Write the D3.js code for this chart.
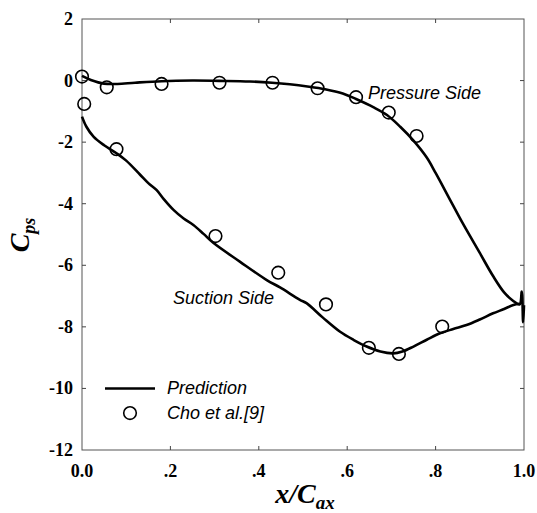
<!DOCTYPE html>
<html>
<head>
<meta charset="utf-8">
<script src="https://cdn.jsdelivr.net/npm/d3@7"></script>
<style>
  body { margin: 0; background: #fff; }
</style>
</head>
<body>
<svg id="chart"></svg>
<script>
// prediction curves [x/Cax, Cps]
var pressurePred = [[0, 0.15], [0.02, 0.02], [0.05, -0.1], [0.08, -0.11], [0.12, -0.07], [0.18, -0.02],
  [0.25, 0.0], [0.31, -0.01], [0.38, -0.03], [0.43, -0.07], [0.47, -0.12], [0.51, -0.19], [0.55, -0.28],
  [0.59, -0.42], [0.62, -0.6], [0.66, -0.87], [0.69, -1.12], [0.72, -1.5], [0.75, -1.95], [0.78, -2.5],
  [0.80, -3.0], [0.83, -3.8], [0.86, -4.6], [0.90, -5.6], [0.93, -6.35], [0.955, -6.88], [0.975, -7.15],
  [0.99, -7.27], [0.995, -6.85], [0.998, -7.85], [1.0, -7.3]];

var suctionPred = [[0, -1.17], [0.01, -1.5], [0.026, -1.82], [0.05, -2.1], [0.078, -2.36], [0.10, -2.6],
  [0.131, -3.05], [0.15, -3.33], [0.169, -3.56], [0.185, -3.85], [0.207, -4.2], [0.23, -4.48],
  [0.252, -4.69], [0.275, -4.98], [0.297, -5.27], [0.357, -5.88], [0.418, -6.48], [0.448, -6.72],
  [0.493, -7.12], [0.508, -7.23], [0.545, -7.7], [0.584, -8.16], [0.614, -8.42], [0.644, -8.64],
  [0.675, -8.8], [0.704, -8.86], [0.725, -8.8], [0.75, -8.64], [0.78, -8.42], [0.81, -8.21],
  [0.84, -8.07], [0.87, -7.94], [0.90, -7.76], [0.93, -7.56], [0.955, -7.42], [0.976, -7.29], [0.99, -7.25]];

// Cho et al. [9] measurements
var pressureExp = [[0.0, 0.13], [0.056, -0.22], [0.18, -0.11], [0.311, -0.07], [0.431, -0.07],
  [0.533, -0.25], [0.62, -0.54], [0.694, -1.04], [0.757, -1.80]];
var suctionExp = [[0.005, -0.76], [0.078, -2.23], [0.302, -5.05], [0.444, -6.24], [0.552, -7.27],
  [0.649, -8.68], [0.717, -8.88], [0.815, -7.99]];

var xTicks = [0, 0.2, 0.4, 0.6, 0.8, 1.0];
var xTickLabels = ["0.0", ".2", ".4", ".6", ".8", "1.0"];
var yTicks = [2, 0, -2, -4, -6, -8, -10, -12];

var serif = "'Liberation Serif', 'Times New Roman', serif";
var narrow = "'Liberation Sans Narrow', 'Liberation Sans', sans-serif";

var width = 537, height = 513;
var svg = d3.select("#chart").attr("width", width).attr("height", height);

var x = d3.scaleLinear().domain([0, 1]).range([82, 524]);
var y = d3.scaleLinear().domain([-12, 2]).range([450, 19]);

// frame
svg.append("rect")
  .attr("x", x(0)).attr("y", y(2))
  .attr("width", x(1) - x(0)).attr("height", y(-12) - y(2))
  .attr("fill", "none").attr("stroke", "#555").attr("stroke-width", 1);

// inward ticks on all sides
var tk = 4;
svg.append("g").selectAll("line").data(xTicks.slice(1, -1)).enter().append("line")
  .attr("x1", function(d) { return x(d); }).attr("x2", function(d) { return x(d); })
  .attr("y1", y(-12)).attr("y2", y(-12) - tk).attr("stroke", "#444");
svg.append("g").selectAll("line").data(xTicks.slice(1, -1)).enter().append("line")
  .attr("x1", function(d) { return x(d); }).attr("x2", function(d) { return x(d); })
  .attr("y1", y(2)).attr("y2", y(2) + tk).attr("stroke", "#444");
svg.append("g").selectAll("line").data(yTicks.slice(1, -1)).enter().append("line")
  .attr("y1", function(d) { return y(d); }).attr("y2", function(d) { return y(d); })
  .attr("x1", x(0)).attr("x2", x(0) + tk).attr("stroke", "#444");
svg.append("g").selectAll("line").data(yTicks.slice(1, -1)).enter().append("line")
  .attr("y1", function(d) { return y(d); }).attr("y2", function(d) { return y(d); })
  .attr("x1", x(1)).attr("x2", x(1) - tk).attr("stroke", "#444");

// tick labels
svg.append("g").selectAll("text").data(yTicks).enter().append("text")
  .attr("x", 73).attr("y", function(d) { return y(d) + 6; })
  .attr("text-anchor", "end")
  .style("font-family", serif).style("font-weight", "bold").style("font-size", "18px")
  .text(function(d) { return d; });

svg.append("g").selectAll("text").data(xTicks).enter().append("text")
  .attr("x", function(d) { return x(d); }).attr("y", 477)
  .attr("text-anchor", "middle")
  .style("font-family", serif).style("font-weight", "bold").style("font-size", "18px")
  .text(function(d, i) { return xTickLabels[i]; });

// axis titles
var yt = svg.append("text")
  .attr("transform", "translate(29,235) rotate(-90)")
  .attr("text-anchor", "middle")
  .style("font-family", serif).style("font-weight", "bold").style("font-style", "italic")
  .style("font-size", "28px");
yt.append("tspan").text("C");
yt.append("tspan").attr("dy", 6).style("font-size", "18px").text("ps");

var xt = svg.append("text")
  .attr("x", 305).attr("y", 503)
  .attr("text-anchor", "middle")
  .style("font-family", serif).style("font-weight", "bold").style("font-style", "italic")
  .style("font-size", "28px");
xt.append("tspan").text("x/C");
xt.append("tspan").attr("dy", 6).style("font-size", "19px").text("ax");

// prediction lines
var line = d3.line()
  .x(function(d) { return x(d[0]); })
  .y(function(d) { return y(d[1]); })
  .curve(d3.curveCatmullRom.alpha(0.5));

[pressurePred, suctionPred].forEach(function(s) {
  svg.append("path").datum(s)
    .attr("d", line)
    .attr("fill", "none").attr("stroke", "#000").attr("stroke-width", 2.6)
    .attr("stroke-linejoin", "round");
});

// experimental circles
svg.append("g").selectAll("circle").data(pressureExp.concat(suctionExp)).enter().append("circle")
  .attr("cx", function(d) { return x(d[0]); })
  .attr("cy", function(d) { return y(d[1]); })
  .attr("r", 6.3)
  .attr("fill", "none").attr("stroke", "#000").attr("stroke-width", 1.6);

// annotations
function note(tx, ty, s) {
  svg.append("text").attr("x", tx).attr("y", ty)
    .style("font-family", narrow).style("font-style", "italic").style("font-size", "18px")
    .text(s);
}
note(368, 99, "Pressure Side");
note(173, 304, "Suction Side");

// legend
svg.append("line")
  .attr("x1", 105).attr("x2", 155).attr("y1", y(-10)).attr("y2", y(-10))
  .attr("stroke", "#000").attr("stroke-width", 2.6);
note(167, y(-10) + 6, "Prediction");
svg.append("circle")
  .attr("cx", 130).attr("cy", y(-10.8)).attr("r", 6.3)
  .attr("fill", "none").attr("stroke", "#000").attr("stroke-width", 1.6);
note(167, y(-10.8) + 6, "Cho et al.[9]");
</script>
</body>
</html>
